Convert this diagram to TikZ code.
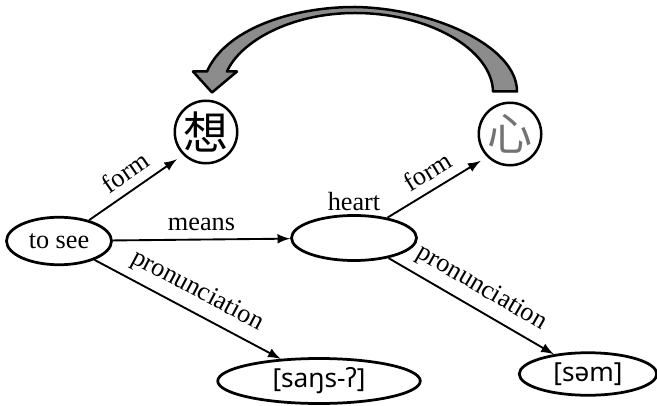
\documentclass[tikz,border=0pt]{standalone}
\usepackage{fontspec}
\setmainfont{Liberation Serif}
\newfontfamily\cjk{Noto Sans CJK SC}
\newfontfamily\ipa{Noto Sans}
\usetikzlibrary{shapes.geometric}

\begin{document}
\begin{tikzpicture}[x=0.4pt, y=-0.4pt,
  font=\fontsize{10.5}{12}\selectfont,
  word/.style={ellipse, draw, line width=1.1pt, inner sep=0pt},
  glyph/.style={circle, draw, line width=1pt, inner sep=0pt, minimum size=25pt, font=\cjk\fontsize{18}{18}\selectfont},
  link/.style={-latex, line width=0.75pt},
  bigarrow/.style={draw, line width=1pt, line join=round, fill=black!45}]
\useasboundingbox (0,0) rectangle (657,405);
%%%  nodes

% word nodes
\node [word, minimum width=42pt, minimum height=19pt] (tosee) at (59,241) {to see};
\node [word, minimum width=50pt, minimum height=18pt, label={[inner sep=1pt]above:heart}] (heart) at (354,238) {};

% character nodes
\node [glyph] (xiang) at (206,132) {想};
\node [glyph, text=black!55] (xin) at (510,134) {心};

% sound nodes
\node [word, minimum width=81pt, minimum height=18pt, font=\ipa\fontsize{10.5}{12}\selectfont] (sangs) at (319,381) {[saŋs-ʔ]};
\node [word, minimum width=55pt, minimum height=17pt, font=\ipa\fontsize{10.5}{12}\selectfont] (sem) at (588,374) {[səm]};

%%% edges

% to see
\draw (tosee) [link, shorten >=3pt] to node [sloped, above] {form} (xiang.225);
\draw (tosee) [link] to node [above] {means} (heart);
\draw (tosee) [link] to node [sloped, above] {pronunciation} (sangs.150);

% heart
\draw (heart) [link, shorten >=3pt] to node [sloped, above] {form} (xin.225);
\draw (heart) [link] to node [sloped, above] {pronunciation} (sem.150);

% big arrow back
\path [bigarrow] ([shift={(7,-10)}]xin.north) -- ([shift={(-17,-10)}]xin.north)
  .. controls (492,50) and (430,13) .. (355,13)
  .. controls (290,13) and (240,42) .. ([shift={(21,-28)}]xiang.north)
  -- ([shift={(31,-28)}]xiang.north) -- ([shift={(6,-7)}]xiang.north)
  -- ([shift={(-13,-28)}]xiang.north) -- ([shift={(1,-28)}]xiang.north)
  .. controls (225,30) and (290,7) .. (355,7)
  .. controls (430,8) and (517,45) .. ([shift={(7,-10)}]xin.north) -- cycle;
\end{tikzpicture}
\end{document}
